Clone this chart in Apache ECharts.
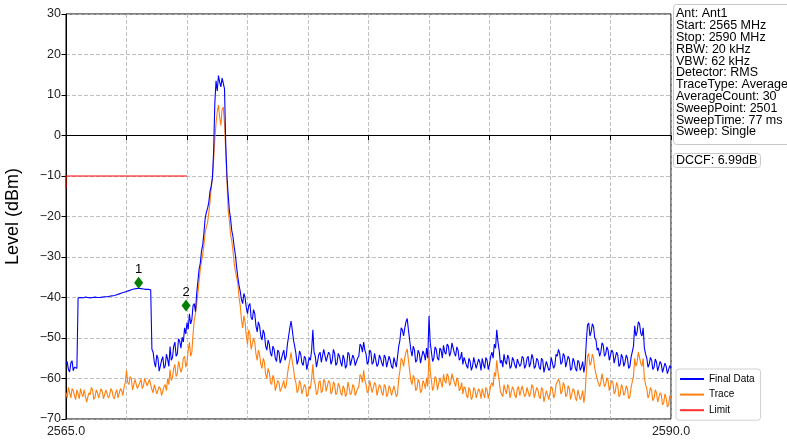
<!DOCTYPE html>
<html>
<head>
<meta charset="utf-8">
<script src="https://cdn.jsdelivr.net/npm/echarts@6/dist/echarts.min.js"></script>
<style>html,body{margin:0;padding:0;background:#fff;}#c{width:787px;height:444px;}</style>
</head>
<body>
<div id="c"></div>
<script>
// Sweep definition
const startMHz = 2565;
const stepMHz = 0.05;
const xTickLabels = ['2565.0', '2590.0'];

// Final Data (blue), one value per 0.05 MHz from 2565.0 to 2590.0 (one row = 0.5 MHz)
const finalData = [
  -56.5,-55.8,-57.8,-58.4,-56.2,-55.6,-58.1,-57.2,-56.9,-57.5,
  -40.1,-40.0,-40.0,-40.1,-40.1,-40.0,-39.9,-40.0,-40.0,-40.1,
  -40.1,-40.0,-40.0,-39.9,-39.9,-40.0,-40.0,-40.0,-40.0,-39.9,
  -39.9,-39.8,-39.8,-39.8,-39.8,-39.7,-39.7,-39.6,-39.6,-39.5,
  -39.5,-39.4,-39.3,-39.2,-39.1,-39.0,-38.9,-38.8,-38.7,-38.6,
  -38.5,-38.4,-38.3,-38.2,-38.1,-38.0,-37.9,-37.8,-37.8,-37.7,
  -37.7,-37.7,-37.8,-37.8,-37.9,-37.9,-38.0,-38.0,-38.0,-38.1,
  -38.1,-52.8,-53.5,-56.0,-57.2,-54.2,-55.0,-58.2,-57.8,-55.5,
  -54.6,-57.5,-56.9,-54.0,-55.3,-57.0,-52.1,-55.5,-54.8,-52.0,
  -51.0,-54.5,-53.9,-50.2,-50.8,-52.5,-49.8,-51.0,-47.5,-49.0,
  -46.2,-47.8,-44.0,-46.5,-45.5,-42.0,-41.5,-43.5,-39.0,-36.0,
  -33.0,-31.5,-28.5,-27.0,-24.0,-20.5,-19.0,-18.0,-16.5,-13.8,
  -12.5,-10.5,-4.0,8.0,13.5,11.0,14.8,13.2,12.0,14.2,
  14.5,11.5,-2.0,-10.0,-14.5,-18.5,-20.5,-23.5,-25.0,-27.5,
  -29.5,-32.5,-35.0,-37.0,-38.5,-40.5,-41.5,-39.0,-40.0,-42.5,
  -44.0,-42.0,-41.5,-45.0,-45.5,-43.0,-44.0,-47.0,-48.5,-46.0,
  -47.0,-49.5,-50.5,-48.0,-49.0,-52.0,-53.0,-50.5,-51.5,-53.8,
  -54.5,-52.0,-52.8,-55.0,-55.8,-53.0,-53.5,-56.2,-55.2,-54.0,
  -53.0,-55.5,-54.5,-51.5,-49.5,-47.5,-45.8,-48.0,-50.5,-52.0,
  -53.8,-56.5,-55.5,-53.2,-54.0,-56.2,-56.8,-54.5,-55.0,-57.8,
  -57.5,-54.8,-55.5,-53.0,-48.0,-53.5,-54.5,-57.2,-56.8,-54.0,
  -53.5,-56.0,-55.8,-52.8,-53.2,-55.8,-56.0,-53.5,-54.0,-56.5,
  -55.5,-52.8,-53.8,-56.8,-56.2,-53.8,-54.5,-56.0,-57.0,-54.2,
  -55.2,-57.5,-56.8,-53.5,-54.0,-56.8,-56.5,-54.2,-55.0,-56.8,
  -57.2,-55.0,-54.5,-51.5,-52.0,-53.5,-51.0,-53.0,-54.0,-56.5,
  -55.8,-53.0,-53.5,-56.5,-56.0,-53.8,-54.2,-57.0,-56.5,-54.2,
  -55.0,-56.2,-57.0,-54.2,-54.8,-57.2,-56.8,-54.5,-55.5,-57.0,
  -57.5,-54.8,-55.0,-57.2,-56.8,-52.0,-50.5,-47.5,-48.0,-49.5,
  -47.5,-46.0,-45.2,-48.0,-50.5,-53.0,-54.5,-52.0,-53.0,-56.0,
  -55.5,-53.0,-53.8,-56.2,-55.8,-53.2,-54.0,-55.5,-52.5,-55.0,
  -44.6,-51.0,-53.5,-55.8,-55.0,-52.2,-52.8,-55.0,-55.5,-52.5,
  -53.0,-55.0,-51.8,-53.5,-54.0,-51.5,-52.0,-54.5,-53.5,-51.2,
  -52.5,-53.8,-54.5,-52.2,-53.0,-55.5,-55.0,-53.5,-56.5,-54.8,
  -55.0,-56.8,-57.5,-55.0,-55.8,-58.0,-57.0,-54.8,-55.2,-57.5,
  -57.8,-55.2,-56.0,-58.0,-55.0,-56.5,-57.5,-54.8,-55.5,-57.8,
  -56.5,-54.5,-53.5,-55.0,-51.5,-52.5,-48.0,-51.0,-53.0,-56.2,
  -55.5,-57.2,-54.0,-55.8,-56.5,-54.2,-55.0,-57.5,-57.0,-54.8,
  -55.5,-56.8,-57.5,-55.2,-54.8,-57.0,-56.5,-54.5,-55.0,-57.5,
  -56.8,-55.0,-54.5,-57.2,-56.2,-54.0,-55.0,-57.5,-57.0,-55.0,
  -55.5,-57.2,-57.8,-55.0,-55.5,-58.5,-58.2,-55.8,-56.0,-58.0,
  -57.5,-54.8,-55.0,-57.5,-56.8,-54.0,-54.5,-52.8,-53.8,-56.5,
  -56.0,-53.8,-54.5,-57.2,-56.8,-54.5,-55.2,-58.0,-57.5,-55.0,
  -55.8,-57.5,-58.2,-55.5,-56.0,-58.0,-57.2,-55.8,-58.5,-56.5,
  -51.0,-46.8,-46.3,-49.5,-48.5,-46.5,-47.2,-50.0,-50.5,-53.0,
  -52.5,-54.5,-53.5,-51.2,-51.8,-54.5,-54.0,-52.2,-53.0,-55.5,
  -55.2,-53.0,-53.5,-56.2,-55.8,-53.5,-54.2,-57.0,-56.5,-54.0,
  -54.8,-57.0,-56.0,-54.2,-55.0,-57.5,-57.0,-54.8,-55.0,-52.0,
  -47.0,-49.5,-48.5,-46.0,-46.5,-48.8,-49.5,-47.5,-52.5,-54.0,
  -55.0,-57.2,-56.5,-54.8,-55.5,-57.8,-57.2,-55.2,-56.0,-58.2,
  -57.8,-55.8,-56.5,-58.5,-58.2,-56.2,-57.0,-58.8,-58.5,-56.8,
  -57.5
];

// Trace (orange)
const traceData = [
  -63.5,-64.8,-62.2,-63.5,-64.8,-62.5,-63.0,-64.2,-65.2,-62.8,
  -63.8,-65.0,-62.5,-63.8,-64.5,-62.8,-63.2,-65.8,-65.5,-63.5,
  -64.0,-62.2,-62.8,-65.2,-64.6,-62.8,-63.5,-64.8,-65.0,-62.5,
  -63.2,-65.0,-64.8,-62.8,-62.5,-64.8,-64.2,-62.5,-63.0,-64.5,
  -65.0,-63.5,-62.8,-64.8,-64.4,-62.5,-63.0,-64.2,-62.2,-61.0,
  -58.0,-61.0,-61.5,-59.5,-60.0,-62.8,-62.5,-60.2,-60.5,-62.5,
  -62.8,-61.0,-60.2,-62.5,-61.8,-60.0,-59.8,-61.8,-62.0,-60.2,
  -60.5,-62.8,-63.5,-61.5,-61.8,-63.8,-64.0,-62.0,-62.5,-64.2,
  -63.8,-62.0,-61.5,-63.0,-60.0,-61.5,-57.8,-60.5,-59.8,-57.5,
  -56.5,-59.5,-58.8,-55.8,-56.2,-58.5,-57.5,-55.0,-54.5,-57.2,
  -56.0,-53.0,-51.0,-54.5,-53.5,-49.0,-45.5,-44.0,-41.5,-39.0,
  -36.0,-33.0,-31.0,-29.5,-27.0,-24.0,-22.5,-21.5,-19.0,-16.5,
  -13.0,-10.5,-6.0,-1.0,3.0,6.0,7.5,4.5,2.5,6.5,
  7.0,3.0,-4.0,-11.0,-18.5,-21.0,-24.5,-26.0,-28.5,-31.5,
  -33.5,-35.0,-36.5,-40.0,-42.0,-45.5,-47.5,-44.5,-46.0,-49.5,
  -51.5,-48.0,-49.0,-52.8,-52.5,-50.0,-51.0,-54.0,-55.5,-53.0,
  -54.0,-56.5,-57.5,-55.0,-56.0,-59.0,-60.0,-57.5,-58.5,-61.0,
  -61.5,-59.2,-60.0,-63.0,-62.8,-60.5,-61.0,-63.2,-62.5,-61.5,
  -60.5,-62.5,-61.8,-59.0,-57.0,-55.5,-53.6,-55.8,-57.5,-60.0,
  -61.0,-63.5,-62.8,-60.5,-61.5,-63.8,-63.5,-61.5,-62.0,-64.5,
  -64.0,-62.0,-62.5,-60.0,-56.5,-60.5,-61.5,-64.0,-63.5,-61.0,
  -60.5,-63.5,-63.0,-60.2,-60.8,-63.2,-62.8,-60.5,-61.0,-63.8,
  -63.2,-60.8,-61.5,-64.0,-63.5,-61.2,-61.8,-63.5,-64.2,-61.8,
  -62.5,-64.5,-63.8,-60.8,-61.2,-64.0,-63.5,-61.5,-62.0,-64.2,
  -64.5,-62.5,-62.0,-59.0,-59.5,-61.0,-58.0,-60.5,-61.5,-63.5,
  -63.0,-60.5,-60.8,-63.5,-63.2,-61.0,-61.5,-64.2,-63.8,-61.5,
  -62.0,-63.5,-64.2,-61.5,-62.0,-64.5,-63.8,-61.8,-62.5,-64.2,
  -64.5,-61.8,-62.2,-64.5,-63.8,-60.0,-58.0,-55.0,-55.5,-57.0,
  -54.8,-53.5,-52.7,-55.5,-58.0,-60.5,-61.5,-59.2,-60.0,-63.0,
  -62.5,-60.2,-61.0,-63.5,-63.0,-60.5,-61.2,-62.5,-59.8,-62.0,
  -53.5,-58.0,-60.5,-63.0,-62.0,-59.5,-60.0,-62.8,-62.5,-59.8,
  -60.0,-62.2,-59.0,-60.5,-61.2,-58.8,-59.5,-61.8,-61.0,-58.8,
  -60.0,-61.0,-62.0,-59.8,-60.5,-63.0,-62.5,-61.0,-63.8,-62.0,
  -62.5,-64.2,-64.8,-62.2,-63.0,-65.2,-64.5,-62.2,-62.8,-64.8,
  -65.0,-62.5,-63.2,-65.0,-62.5,-63.8,-64.8,-62.2,-62.8,-65.0,
  -63.5,-61.8,-61.0,-62.0,-58.5,-59.5,-55.5,-58.5,-60.5,-63.2,
  -62.8,-64.5,-61.5,-62.8,-63.8,-61.5,-62.2,-64.8,-64.5,-62.0,
  -62.8,-64.2,-64.8,-62.5,-62.0,-64.2,-63.8,-61.8,-62.2,-64.5,
  -64.0,-62.2,-61.8,-64.5,-63.5,-61.5,-62.2,-64.8,-64.5,-62.2,
  -62.8,-64.5,-65.0,-62.2,-62.8,-65.8,-65.5,-63.0,-63.2,-65.2,
  -64.8,-62.0,-62.5,-64.8,-64.0,-61.5,-61.8,-60.2,-61.0,-63.8,
  -63.2,-61.0,-61.8,-64.5,-64.0,-61.8,-62.5,-65.2,-64.8,-62.5,
  -63.0,-64.8,-65.5,-62.8,-63.2,-65.2,-64.5,-63.0,-66.0,-63.8,
  -58.5,-54.5,-53.8,-56.8,-56.0,-54.0,-55.0,-57.5,-57.8,-60.2,
  -59.8,-62.0,-61.0,-58.8,-59.2,-62.0,-61.5,-59.8,-60.5,-63.0,
  -62.8,-60.5,-61.0,-63.8,-63.2,-61.0,-61.8,-64.5,-64.0,-61.5,
  -62.2,-64.2,-63.5,-61.8,-62.5,-65.0,-64.5,-62.2,-62.5,-59.5,
  -55.0,-57.0,-56.0,-53.5,-53.8,-56.2,-57.0,-55.0,-60.0,-61.5,
  -62.5,-64.8,-64.0,-62.2,-63.0,-65.5,-64.8,-62.8,-63.5,-65.8,
  -65.5,-63.5,-64.0,-66.5,-66.0,-63.8,-64.8,-67.0,-66.5,-64.2,
  -65.0
];

// Limit line
const limitFreq = [2565, 2565, 2570];
const limitLevel = [-13, -10, -10];

// Markers
const markerNames = ['1', '2'];
const markerFreq = [2568.0, 2569.96];
const markerLevel = [-36.35, -42.0];

const infoLines = [
  'Ant: Ant1', 'Start: 2565 MHz', 'Stop: 2590 MHz', 'RBW: 20 kHz', 'VBW: 62 kHz',
  'Detector: RMS', 'TraceType: Average', 'AverageCount: 30', 'SweepPoint: 2501',
  'SweepTime: 77 ms', 'Sweep: Single'
];
const dccfText = 'DCCF: 6.99dB';

const FONT = 'Liberation Sans, Arial, sans-serif';
const toXY = arr => arr.map((v, i) => [startMHz + i * stepMHz, v]);

const chart = echarts.init(document.getElementById('c'), null, {renderer: 'canvas'});
chart.setOption({
  animation: false,
  backgroundColor: '#fff',
  textStyle: {fontFamily: FONT},
  title: [
    {
      text: infoLines.join('\n'), left: 673, top: 5,
      padding: [3, 3, 6, 3], borderColor: '#c8c8c8', borderWidth: 1, borderRadius: 3,
      backgroundColor: '#fff',
      textStyle: {fontFamily: FONT, fontSize: 12.5, fontWeight: 'normal', color: '#000', lineHeight: 11.8}
    },
    {
      text: dccfText, left: 673, top: 153,
      padding: [1, 3, 1, 3], borderColor: '#c8c8c8', borderWidth: 1, borderRadius: 3,
      backgroundColor: '#fff',
      textStyle: {fontFamily: FONT, fontSize: 12.5, fontWeight: 'normal', color: '#000', lineHeight: 12.5}
    }
  ],
  legend: {
    orient: 'vertical', left: 676, top: 369,
    padding: [4, 6, 4, 4], itemGap: 3.6, itemWidth: 24, itemHeight: 2,
    borderColor: '#d0d0d0', borderWidth: 1, borderRadius: 3, backgroundColor: '#fff',
    icon: 'rect',
    textStyle: {fontFamily: FONT, fontSize: 10, color: '#000', lineHeight: 12},
    data: ['Final Data', 'Trace', 'Limit']
  },
  grid: {left: 66, right: 116, top: 14, bottom: 25, show: true, borderColor: '#000', borderWidth: 1,
    containLabel: false, outerBoundsMode: 'none'},
  xAxis: {
    type: 'value', min: 2565, max: 2590, interval: 2.5,
    axisLine: {show: true, lineStyle: {color: '#000', width: 1}},
    axisTick: {show: true, length: 4.5, lineStyle: {color: '#000'}},
    axisLabel: {
      fontFamily: FONT, fontSize: 12.5, color: '#222', margin: 6, showMaxLabel: true, showMinLabel: true,
      formatter: v => (Math.abs(v - 2565) < 1e-6 ? xTickLabels[0] : (Math.abs(v - 2590) < 1e-6 ? xTickLabels[1] : ''))
    },
    splitLine: {show: true, lineStyle: {color: '#b0b0b0', type: [4, 2], width: 0.8}}
  },
  yAxis: {
    type: 'value', min: -70, max: 30, interval: 10,
    name: 'Level (dBm)', nameLocation: 'middle', nameGap: 44,
    nameTextStyle: {fontFamily: FONT, fontSize: 18, color: '#000'},
    axisLine: {show: true, lineStyle: {color: '#000', width: 1}},
    axisTick: {show: true, length: 4.5, lineStyle: {color: '#000'}},
    axisLabel: {fontFamily: FONT, fontSize: 12.5, color: '#222', margin: 5,
      formatter: v => String(v).replace('-', '\u2212')},
    splitLine: {show: true, lineStyle: {color: '#b0b0b0', type: [4, 2], width: 0.8}}
  },
  series: [
    {
      name: 'Final Data', type: 'line', data: toXY(finalData), showSymbol: false, symbol: 'none',
      lineStyle: {color: '#0000ff', width: 1.1}, itemStyle: {color: '#0000ff'}, z: 3
    },
    {
      name: 'Trace', type: 'line', data: toXY(traceData), showSymbol: false, symbol: 'none',
      lineStyle: {color: '#ff7f0e', width: 1.1}, itemStyle: {color: '#ff7f0e'}, z: 2
    },
    {
      name: 'Limit', type: 'line', data: limitFreq.map((f, i) => [f, limitLevel[i]]), showSymbol: false, symbol: 'none',
      lineStyle: {color: '#ff0000', width: 1}, itemStyle: {color: '#ff3030'}, z: 4
    },
    {
      name: 'Markers', type: 'scatter', symbol: 'diamond', symbolSize: [9, 12],
      itemStyle: {color: '#007f00', opacity: 1}, z: 5,
      data: markerFreq.map((f, i) => ({value: [f, markerLevel[i]], name: markerNames[i]})),
      label: {show: true, position: 'top', distance: 1, formatter: p => p.name,
        fontFamily: FONT, fontSize: 13, color: '#000'}
    }
  ]
});
</script>
</body>
</html>
